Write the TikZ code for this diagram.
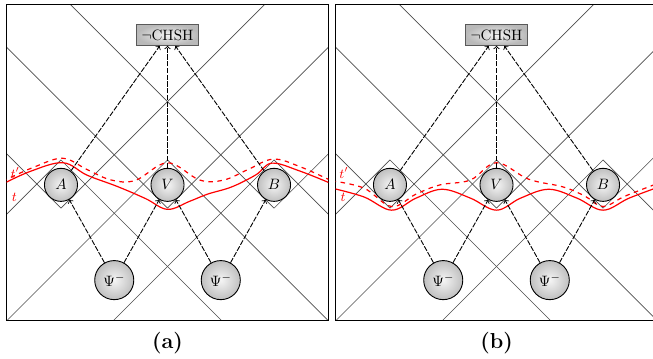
\documentclass[tikz,border=0pt]{standalone}
\tikzset{
  cone/.style={black!70, thin},
  party/.style={circle, draw, semithick, shading=radial, inner color=gray!8, outer color=gray!50, minimum size=22pt, inner sep=0pt},
  source/.style={party, minimum size=26pt},
  test/.style={draw=black!65, semithick, shading=radial, inner color=gray!10, outer color=gray!55},
  signal/.style={->, semithick, dash pattern=on 3.5pt off 1pt},
  tline/.style={red, thick},
  tlabel/.style={red, font=\small, inner sep=1pt},
}
\begin{document}
\begin{tikzpicture}[x=0.94cm, y=0.94cm]
  \useasboundingbox (-0.167,-0.928) rectangle (16.077,7.978);
  % light cones and frames
  \foreach \p/\s in {a/0, b/8.184} {
    \begin{scope}[shift={(\s,0)}]
      \begin{scope}
        \clip (0,0) rectangle (8,7.87);
        \foreach \x in {1.35,4,6.65} {
          % future cone below, past cone above each party
          \draw[cone] (\x,2.8) -- ++(-6,6) (\x,2.8) -- ++(6,6);
          \draw[cone] (\x,4) -- ++(-6,-6) (\x,4) -- ++(6,-6);
        }
      \end{scope}
      \draw[thick] (0,0) rectangle (8,7.87);
    \end{scope}
  }
  % hypersurfaces (a)
  \begin{scope}
    \clip (0,0) rectangle (8,7.87);
    \draw[tline] plot[smooth, tension=0.6] coordinates {(-0.1,3.4) (0.6,3.72) (1.4,3.93) (2.0,3.62) (2.75,3.34) (3.45,3.04) (4.0,2.77) (4.55,2.97) (5.0,3.15) (5.6,3.33) (6.2,3.63) (6.6,3.92) (7.3,3.72) (8.1,3.4)};
    \draw[tline, dashed] plot[smooth, tension=0.6] coordinates {(-0.1,3.47) (0.7,3.83) (1.4,4.04) (2.0,3.76) (2.6,3.5) (3.2,3.49) (4.0,3.93) (4.8,3.5) (5.4,3.5) (6.0,3.76) (6.63,4.02) (7.3,3.83) (8.1,3.47)};
  \end{scope}
  \node[tlabel] (tpa) at (0.21,3.67) {$t'$};
  \node[tlabel] (ta) at (0.19,3.08) {$t$};
  % hypersurfaces (b)
  \begin{scope}[shift={(8.184,0)}]
    \clip (0,0) rectangle (8,7.87);
    \draw[tline] plot[smooth, tension=0.6] coordinates {(-0.1,3.3) (0.7,3.08) (1.39,2.75) (2.0,3.05) (2.65,3.27) (3.35,3.05) (4.0,2.75) (4.6,3.05) (5.3,3.27) (6.0,3.05) (6.65,2.75) (7.3,3.05) (8.1,3.35)};
    \draw[tline, dashed] plot[smooth, tension=0.6] coordinates {(-0.1,3.48) (0.7,3.3) (1.39,2.84) (2.0,3.15) (2.6,3.38) (3.35,3.5) (4.0,3.93) (4.8,3.52) (5.65,3.33) (6.2,3.1) (6.65,2.84) (7.2,3.1) (8.1,3.45)};
  \end{scope}
  \node[tlabel] (tpb) at (8.39,3.67) {$t'$};
  \node[tlabel] (tb) at (8.37,3.08) {$t$};
  % parties, sources and the test
  \foreach \p/\s in {a/0, b/8.184} {
    \begin{scope}[shift={(\s,0)}]
      \node[party] (A\p) at (1.35,3.38) {$A$};
      \node[party] (V\p) at (4,3.38) {$V$};
      \node[party] (B\p) at (6.65,3.38) {$B$};
      \node[source] (S\p) at (2.675,1.01) {$\Psi^-$};
      \node[source] (R\p) at (5.325,1.01) {$\Psi^-$};
      \node[test] (chsh\p) at (4,7.11) {$\neg$CHSH};
      \draw[signal] (S\p) -- (A\p);
      \draw[signal] (S\p) -- (V\p);
      \draw[signal] (R\p) -- (V\p);
      \draw[signal] (R\p) -- (B\p);
      \draw[signal] (A\p) -- (chsh\p);
      \draw[signal] (V\p) -- (chsh\p);
      \draw[signal] (B\p) -- (chsh\p);
      \node (cap\p) at (4,-0.555) {\Large\bfseries(\p)};
    \end{scope}
  }
\end{tikzpicture}
\end{document}
